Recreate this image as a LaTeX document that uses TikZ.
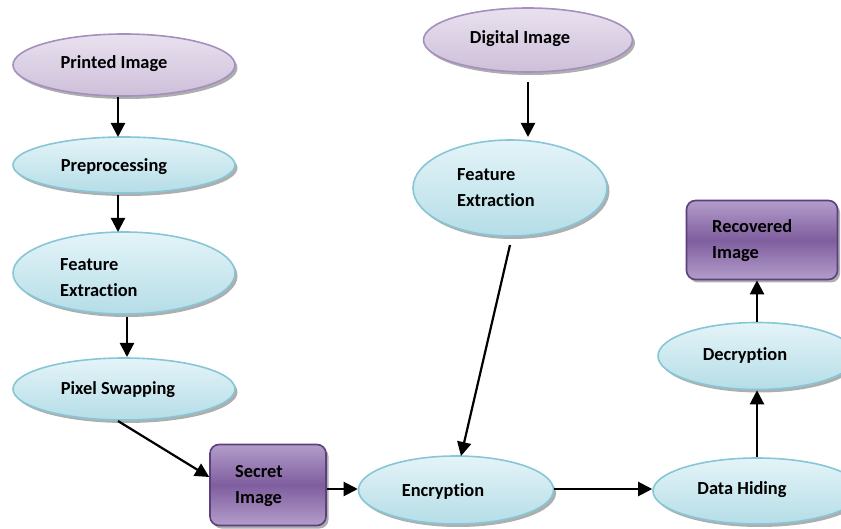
\documentclass[tikz,border=0pt]{standalone}
\usepackage{fontspec}
\setmainfont{Carlito}[Ligatures={NoCommon,NoContextual}]
\usetikzlibrary{shapes.geometric,arrows.meta,shadows}
\definecolor{cyanA}{HTML}{E4F4F8}
\definecolor{cyanB}{HTML}{B5DDE7}
\definecolor{cyanL}{HTML}{86C6D6}
\definecolor{purA}{HTML}{E9E1EF}
\definecolor{purB}{HTML}{CDBFD9}
\definecolor{purL}{HTML}{A58FBE}
\definecolor{boxA}{HTML}{B39DCB}
\definecolor{boxM}{HTML}{7F5E9E}
\definecolor{boxL}{HTML}{5C3F7C}
\tikzset{
  shade/.style={drop shadow={shadow xshift=2.5pt,shadow yshift=-3pt,fill=black!45,opacity=0.7}},
  cyanell/.style={ellipse,draw=cyanL,line width=1.6pt,top color=cyanA,bottom color=cyanB,shade,inner sep=0pt},
  purell/.style={ellipse,draw=purL,line width=1.6pt,top color=purA,bottom color=purB,shade,inner sep=0pt},
  purbox/.style={rectangle,rounded corners=9pt,draw=boxL,line width=1.6pt,top color=boxA,bottom color=boxA,middle color=boxM,shade,inner sep=0pt},
  txt/.style={font=\bfseries\fontsize{18.4}{26}\selectfont,inner sep=0pt,align=left},
  arr/.style={line width=2.2pt,-{Triangle[width=14pt,length=14pt]}},
}
\begin{document}
\begin{tikzpicture}[x=1pt,y=-1pt]
\useasboundingbox (0,0) rectangle (841,529);
% left column
\node[purell,minimum width=222pt,minimum height=62pt] (pi) at (124,65) {};
\node[txt] (tpi) at (114,64) {Printed Image};
\node[cyanell,minimum width=222pt,minimum height=56pt] (pre) at (124,165) {};
\node[txt] (tpre) at (114,167) {Preprocessing};
\node[cyanell,minimum width=222pt,minimum height=82pt] (fe1) at (124,273) {};
\node[txt,anchor=west] (tfe1) at (60,278) {Feature\\Extract\kern0pt ion};
\node[cyanell,minimum width=222pt,minimum height=62pt] (ps) at (124,389) {};
\node[txt] (tps) at (118,390) {Pixel Swapping};
% secret image
\node[purbox,minimum width=116pt,minimum height=81pt] (si) at (268,485) {};
\node[txt,anchor=west] (tsi) at (235,486) {Secret\\Image};
% middle column
\node[purell,minimum width=209pt,minimum height=64pt] (di) at (528,40) {};
\node[txt] (tdi) at (520,39) {Digital Image};
\node[cyanell,minimum width=194pt,minimum height=96pt] (fe2) at (510,188) {};
\node[txt,anchor=west] (tfe2) at (457,188) {Feature\\Extract\kern0pt ion};
\node[cyanell,minimum width=195pt,minimum height=68pt] (enc) at (456,490) {};
\node[txt] (tenc) at (443,491) {Encrypt\kern0pt ion};
% right column
\node[cyanell,minimum width=208pt,minimum height=66pt] (dh) at (757,491) {};
\node[txt] (tdh) at (742,490) {Data Hiding};
\node[cyanell,minimum width=198pt,minimum height=67pt] (dec) at (757,356) {};
\node[txt] (tdec) at (745,355) {Decrypt\kern0pt ion};
\node[purbox,minimum width=151pt,minimum height=79pt] (rec) at (762,240) {};
\node[txt,anchor=west] (trec) at (712,241) {Recovered\\Image};
% connectors
\draw[arr] (pi.south -| 118,0) -- (118,137);
\draw[arr] (118,195) -- (118,232);
\draw[arr] (127,317) -- (127,357);
\coordinate (c1) at (118,421);
\draw[arr] (c1) -- (si.west |- 0,477);
\draw[arr] (si.east |- 0,489) -- (enc.west |- 0,489);
\draw[arr] (528,82) -- (528,137);
\coordinate (c2) at (510,245);
\draw[arr] (c2) -- (461,456);
\draw[arr] (enc.east |- 0,489) -- (dh.west |- 0,489);
\draw[arr] (dh.north) -- (dec.south);
\draw[arr] (dec.north) -- (rec.south -| dec.north);
\end{tikzpicture}
\end{document}
